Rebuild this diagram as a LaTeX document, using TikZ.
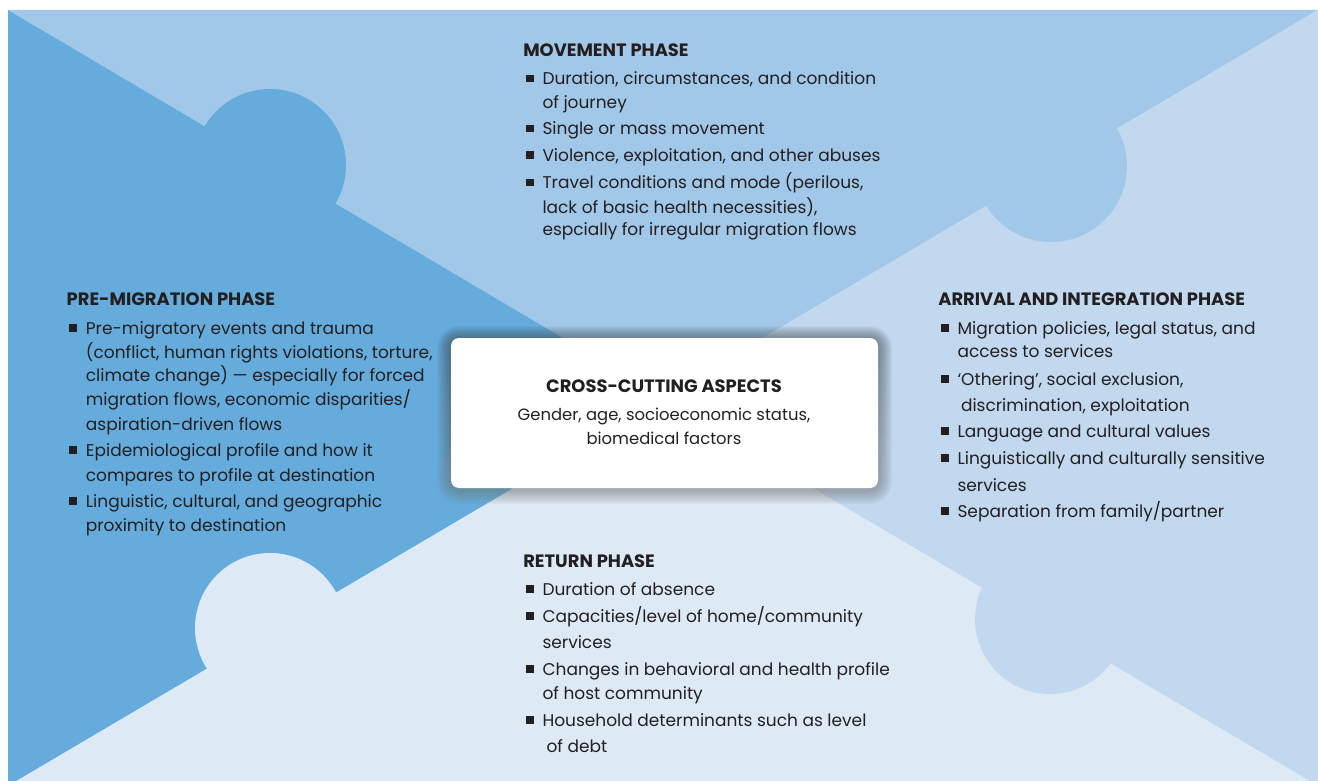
\documentclass[tikz,border=0pt]{standalone}
\usepackage{fontspec}
\setmainfont{Poppins}
\usepackage{array}
\definecolor{cleft}{HTML}{65ACDD}
\definecolor{ctop}{HTML}{A2C8E9}
\definecolor{cright}{HTML}{C1D8EF}
\definecolor{cbot}{HTML}{DDEAF6}
\definecolor{txt}{HTML}{231F20}
\definecolor{shade}{HTML}{1E3A5C}
\newcommand{\bodyfont}{\fontsize{17}{24}\selectfont}
\newcommand{\ccfont}{\fontsize{16.4}{24}\selectfont}
\newcommand{\hd}[1]{{\fontsize{17.9}{24}\selectfont\bfseries #1}}
\newcommand{\bx}{\makebox[19.2pt][l]{\hspace{2.6pt}\rule[2.5pt]{7.8pt}{7.8pt}}}
\tikzset{
  phase/.style={anchor=base west, inner sep=0pt, outer sep=0pt, text=txt, font=\bodyfont},
  ccbox/.style={fill=white, rounded corners=8pt, minimum width=427pt, minimum height=150pt, inner sep=0pt},
  cctext/.style={anchor=base, inner sep=0pt, text=txt, font=\ccfont}
}
\begin{document}
\begin{tikzpicture}[x=1pt,y=-1pt]
\useasboundingbox[fill=white] (0,0) rectangle (1318,781);
% background puzzle pieces
\begin{scope}
\clip (8,10) rectangle (1318,781);
\fill[ctop] (8,10) -- (1318,10) -- (663,397) -- cycle;
\fill[cleft] (8,10) -- (663,397) -- (663,400) -- (8,786) -- cycle;
\fill[cright] (1318,10) -- (1318,786) -- (663,400) -- (663,397) -- cycle;
\fill[cbot] (8,786) -- (663,400) -- (1318,786) -- cycle;
\fill[cleft] (270,165) circle[radius=76];
\fill[ctop] (1051,166) circle[radius=76];
\fill[cbot] (270,628) circle[radius=75];
\fill[cright] (1050,619) circle[radius=75];
\end{scope}
% shadow of central box
\foreach \i in {1,...,14}{
  \fill[shade, opacity=0.022, rounded corners={8+\i}] (451-\i,338-\i+2) rectangle (878+\i,488+\i+2);
}
\node[ccbox] (box) at (664.5,413) {};
\node[cctext] (cc) at (664,392.7) {\begin{tabular}[t]{@{}c@{}}
\hd{CROSS-CUTTING ASPECTS}\\[4pt]
Gender, age, socioeconomic status,\\[-0.7pt]
biomedical factors
\end{tabular}};
% movement phase
\node[phase] (mv) at (523.3,56.7) {\begin{tabular}[t]{@{}l@{}l@{}}
\multicolumn{2}{@{}l@{}}{\hd{MOVEMENT PHASE}}\\[4.3pt]
\bx & Duration, circumstances, and condition\\[-0.7pt]
 & of journey\\[2.7pt]
\bx & Single or mass movement\\[2.7pt]
\bx & Violence, exploitation, and other abuses\\[3.3pt]
\bx & Travel conditions and mode (perilous,\\[0.3pt]
 & lack of basic health necessities),\\[-1.3pt]
 & espcially for irregular migration flows
\end{tabular}};
% pre-migration phase
\node[phase] (pm) at (66.7,305.7) {\begin{tabular}[t]{@{}l@{}l@{}}
\multicolumn{2}{@{}l@{}}{\hd{PRE-MIGRATION PHASE}}\\[4.6pt]
\bx & Pre-migratory events and trauma\\[0pt]
 & (conflict, human rights violations, torture,\\[-0.6pt]
 & climate change) — especially for forced\\[-0.7pt]
 & migration flows, economic disparities/\\[1pt]
 & aspiration-driven flows\\[2.7pt]
\bx & Epidemiological profile and how it\\[0.3pt]
 & compares to profile at destination\\[2.7pt]
\bx & Linguistic, cultural, and geographic\\[0pt]
 & proximity to destination
\end{tabular}};
% arrival and integration phase
\node[phase] (ar) at (938.3,305.7) {\begin{tabular}[t]{@{}l@{}l@{}}
\multicolumn{2}{@{}l@{}}{\hd{ARRIVAL AND INTEGRATION PHASE}}\\[4.6pt]
\bx & Migration policies, legal status, and\\[-0.6pt]
 & access to services\\[3.3pt]
\bx & ‘Othering’, social exclusion,\\[2.5pt]
 & \hspace{3.5pt}discrimination, exploitation\\[2.2pt]
\bx & Language and cultural values\\[2.6pt]
\bx & Linguistically and culturally sensitive\\[2.7pt]
 & services\\[2.7pt]
\bx & Separation from family/partner
\end{tabular}};
% return phase
\node[phase] (rt) at (523.3,567.7) {\begin{tabular}[t]{@{}l@{}l@{}}
\multicolumn{2}{@{}l@{}}{\hd{RETURN PHASE}}\\[4pt]
\bx & Duration of absence\\[2.6pt]
\bx & Capacities/level of home/community\\[2pt]
 & services\\[2.7pt]
\bx & Changes in behavioral and health profile\\[0pt]
 & of host community\\[3.7pt]
\bx & Household determinants such as level\\[1.6pt]
 & \hspace{4pt}of debt
\end{tabular}};
\end{tikzpicture}
\end{document}
